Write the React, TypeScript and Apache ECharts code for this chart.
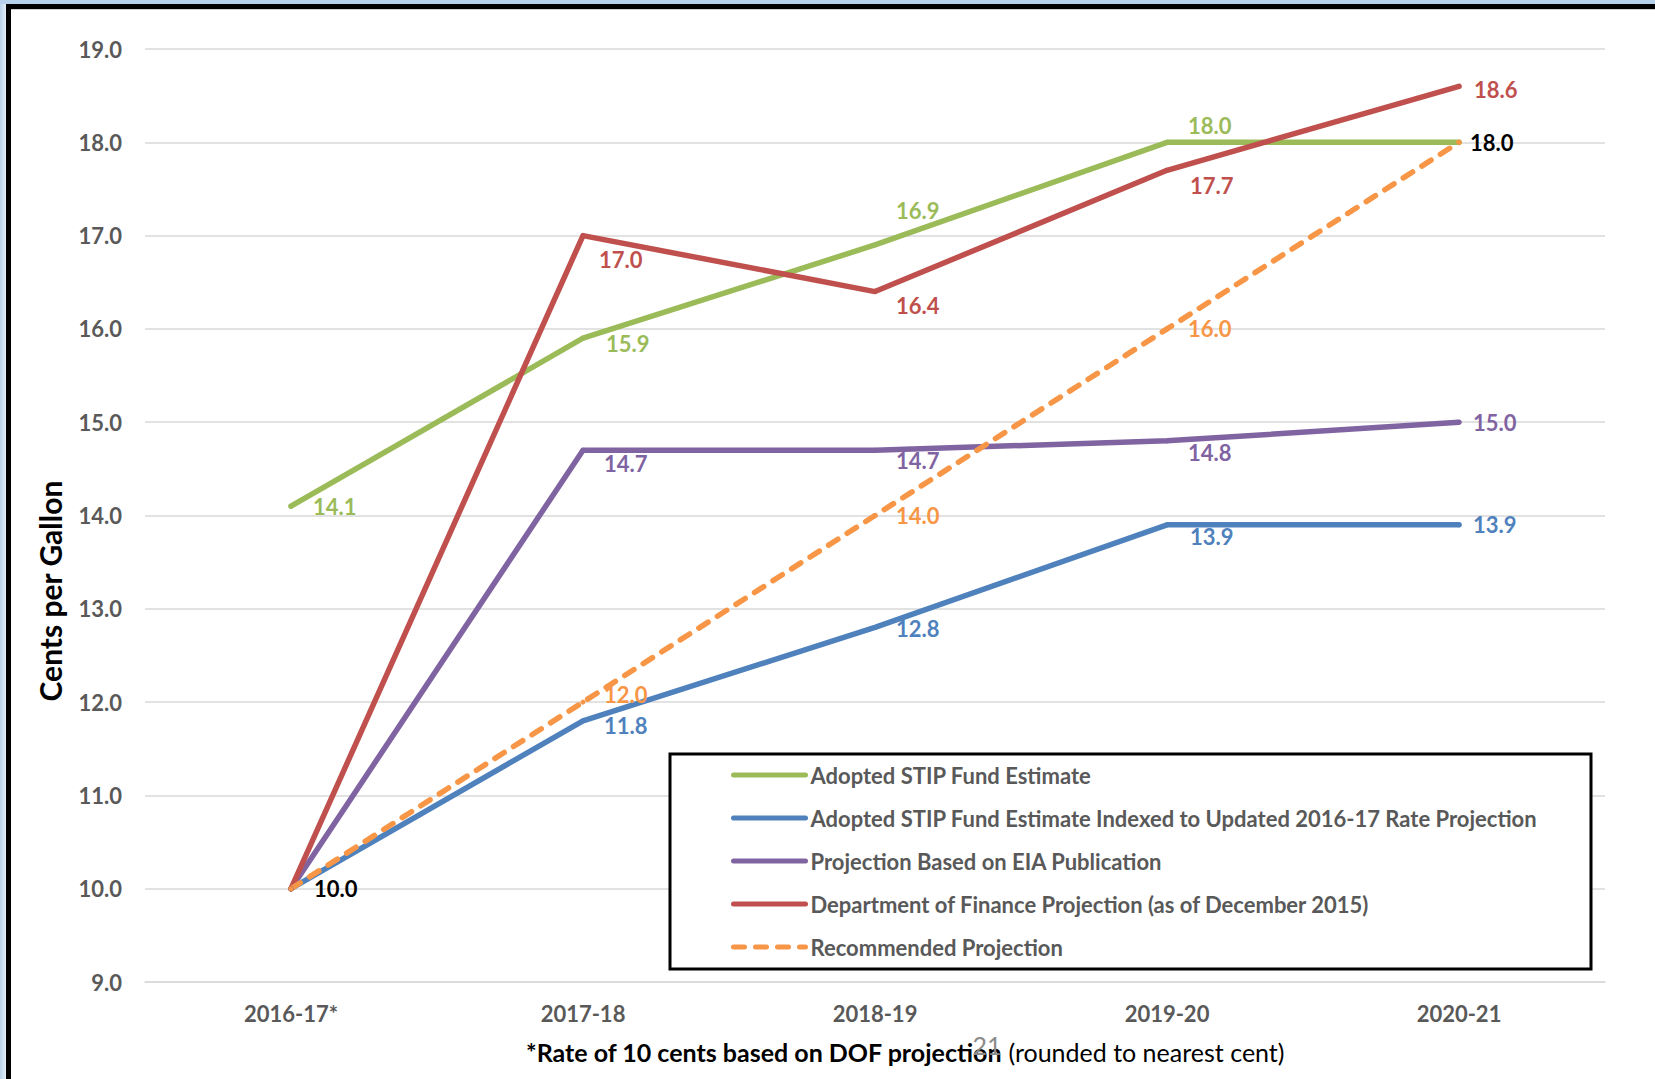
import React, { useEffect, useRef } from "react";
import * as echarts from "echarts";

// Fiscal years on the category axis
const years = ["2016-17*", "2017-18", "2018-19", "2019-20", "2020-21"];

// Cents per gallon, one array per projection
const adoptedFE = [14.1, 15.9, 16.9, 18.0, 18.0];
const adoptedIndexed = [10.0, 11.8, 12.8, 13.9, 13.9];
const eiaProjection = [10.0, 14.7, 14.7, 14.8, 15.0];
const dofProjection = [10.0, 17.0, 16.4, 17.7, 18.6];
const recommended = [10.0, 12.0, 14.0, 16.0, 18.0];

const seriesNames = [
  "Adopted STIP Fund Estimate",
  "Adopted STIP Fund Estimate Indexed to Updated 2016-17 Rate Projection",
  "Projection Based on EIA Publication",
  "Department of Finance Projection (as of December 2015)",
  "Recommended Projection",
];

// Value axis range
const yMin = 9;
const yMax = 19;
const yStep = 1;

// Data-label placement per point: [dx, dy] from the point, or null for no label
type Shift = [number, number] | null;
const greenShifts: Shift[] = [[22, 0], [23, 5], [21, -34], [21, -17], null];
const blueShifts: Shift[] = [null, [21, 5], [21, 1], [23, 12], [14, 0]];
const purpleShifts: Shift[] = [null, [21, 13], [21, 10], [21, 12], [14, 0]];
const redShifts: Shift[] = [null, [16, 24], [21, 14], [23, 15], [15, 3]];
const orangeShifts: Shift[] = [[23, 0], [21, -8], [21, 0], [21, 0], [11, 0]];
// Shared start/end values are labelled once, in black
const orangeBlack = [true, false, false, false, true];

const FONT = "Lato, 'Open Sans', sans-serif";
const GREY = "#595959";
const SYMBOL = 5;

function buildData(values: number[], shifts: Shift[], color: string, black?: boolean[]) {
  return values.map((v, i) => {
    const s = shifts[i];
    if (!s) return { value: v, label: { show: false } };
    return {
      value: v,
      label: {
        show: true,
        position: "right",
        distance: 0,
        offset: [s[0] - SYMBOL / 2, s[1]],
        color: black && black[i] ? "#000000" : color,
      },
    };
  });
}

function lineSeries(name: string, values: number[], shifts: Shift[], color: string, dashed = false, black?: boolean[]) {
  return {
    name,
    type: "line",
    data: buildData(values, shifts, color, black),
    symbol: "circle",
    symbolSize: SYMBOL,
    itemStyle: { color },
    lineStyle: {
      color,
      width: 5.5,
      type: dashed ? [11, 11] : "solid",
      cap: "round",
      join: "round",
    },
    label: {
      fontFamily: FONT,
      fontWeight: "bold",
      fontSize: 22,
      formatter: (p: any) => Number(p.value).toFixed(1),
    },
    emphasis: { disabled: true },
  };
}

export default function App() {
  const ref = useRef<HTMLDivElement>(null);

  useEffect(() => {
    if (!ref.current) return;
    const chart = echarts.init(ref.current, null, { renderer: "svg" });

    const option: any = {
      animation: false,
      grid: { left: 145, right: 50, top: 49, bottom: 97, containLabel: false },
      xAxis: {
        type: "category",
        data: years,
        boundaryGap: true,
        axisLine: { show: true, lineStyle: { color: "#D9D9D9", width: 1.5 } },
        axisTick: { show: false },
        axisLabel: {
          margin: 20,
          color: GREY,
          fontFamily: FONT,
          fontWeight: "bold",
          fontSize: 22,
        },
      },
      yAxis: {
        type: "value",
        min: yMin,
        max: yMax,
        interval: yStep,
        axisLine: { show: false },
        axisTick: { show: false },
        splitLine: { lineStyle: { color: "#D9D9D9", width: 1.5 } },
        axisLabel: {
          margin: 23,
          color: GREY,
          fontFamily: FONT,
          fontWeight: "bold",
          fontSize: 22,
          formatter: (v: number) => v.toFixed(1),
        },
      },
      legend: {
        orient: "vertical",
        left: 731,
        top: 763,
        padding: 0,
        itemWidth: 72,
        itemHeight: 24,
        itemGap: 19,
        itemStyle: { opacity: 0, borderWidth: 0 },
        lineStyle: { width: 5, cap: "round" },
        selectedMode: false,
        textStyle: {
          color: GREY,
          fontFamily: FONT,
          fontWeight: "bold",
          fontSize: 22,
          lineHeight: 24,
        },
        data: seriesNames,
      },
      graphic: [
        {
          type: "rect",
          z: 3,
          shape: { x: 670, y: 754, width: 921, height: 215 },
          style: { fill: "#ffffff", stroke: "#000000", lineWidth: 3 },
        },
        {
          type: "text",
          x: 50,
          y: 591,
          rotation: Math.PI / 2,
          style: {
            text: "Cents per Gallon",
            fill: "#000000",
            fontFamily: FONT,
            fontWeight: "bold",
            fontSize: 30,
            align: "center",
            verticalAlign: "middle",
          },
        },
        {
          type: "text",
          x: 905,
          y: 1052,
          style: {
            text: "{b|*Rate of 10 cents based on DOF projection}{r| (rounded to nearest cent)}",
            align: "center",
            verticalAlign: "middle",
            rich: {
              b: { fontFamily: FONT, fontWeight: "bold", fontSize: 25, fill: "#000000" },
              r: { fontFamily: FONT, fontWeight: "normal", fontSize: 25, fill: "#000000" },
            },
          },
        },
        {
          type: "text",
          x: 987,
          y: 1045,
          z: 10,
          style: {
            text: "21",
            fill: "#8C8C8C",
            fontFamily: FONT,
            fontSize: 25,
            align: "center",
            verticalAlign: "middle",
          },
        },
      ],
      series: [
        lineSeries(seriesNames[0], adoptedFE, greenShifts, "#9BBB59"),
        lineSeries(seriesNames[1], adoptedIndexed, blueShifts, "#4F81BD"),
        lineSeries(seriesNames[2], eiaProjection, purpleShifts, "#8064A2"),
        lineSeries(seriesNames[3], dofProjection, redShifts, "#C0504D"),
        lineSeries(seriesNames[4], recommended, orangeShifts, "#F79646", true, orangeBlack),
      ],
    };

    chart.setOption(option);
    return () => chart.dispose();
  }, []);

  return (
    <div
      style={{
        position: "absolute",
        left: 0,
        top: 0,
        width: 1655,
        height: 1079,
        overflow: "hidden",
        background: "linear-gradient(90deg, #B9D3EC 0px, #E4EEF8 6px)",
      }}
    >
      <div
        style={{
          position: "absolute",
          left: 0,
          top: 0,
          width: 1655,
          height: 4,
          background: "#B7D1EC",
        }}
      />
      <div
        style={{
          position: "absolute",
          left: 6,
          top: 4,
          width: 1700,
          height: 1100,
          background: "#ffffff",
          borderLeft: "5px solid #000000",
          borderTop: "5px solid #000000",
          boxShadow: "inset 0 1px 0 #CFCFCF",
        }}
      />
      <div
        ref={ref}
        style={{ position: "absolute", left: 0, top: 0, width: 1655, height: 1079 }}
      />
    </div>
  );
}
